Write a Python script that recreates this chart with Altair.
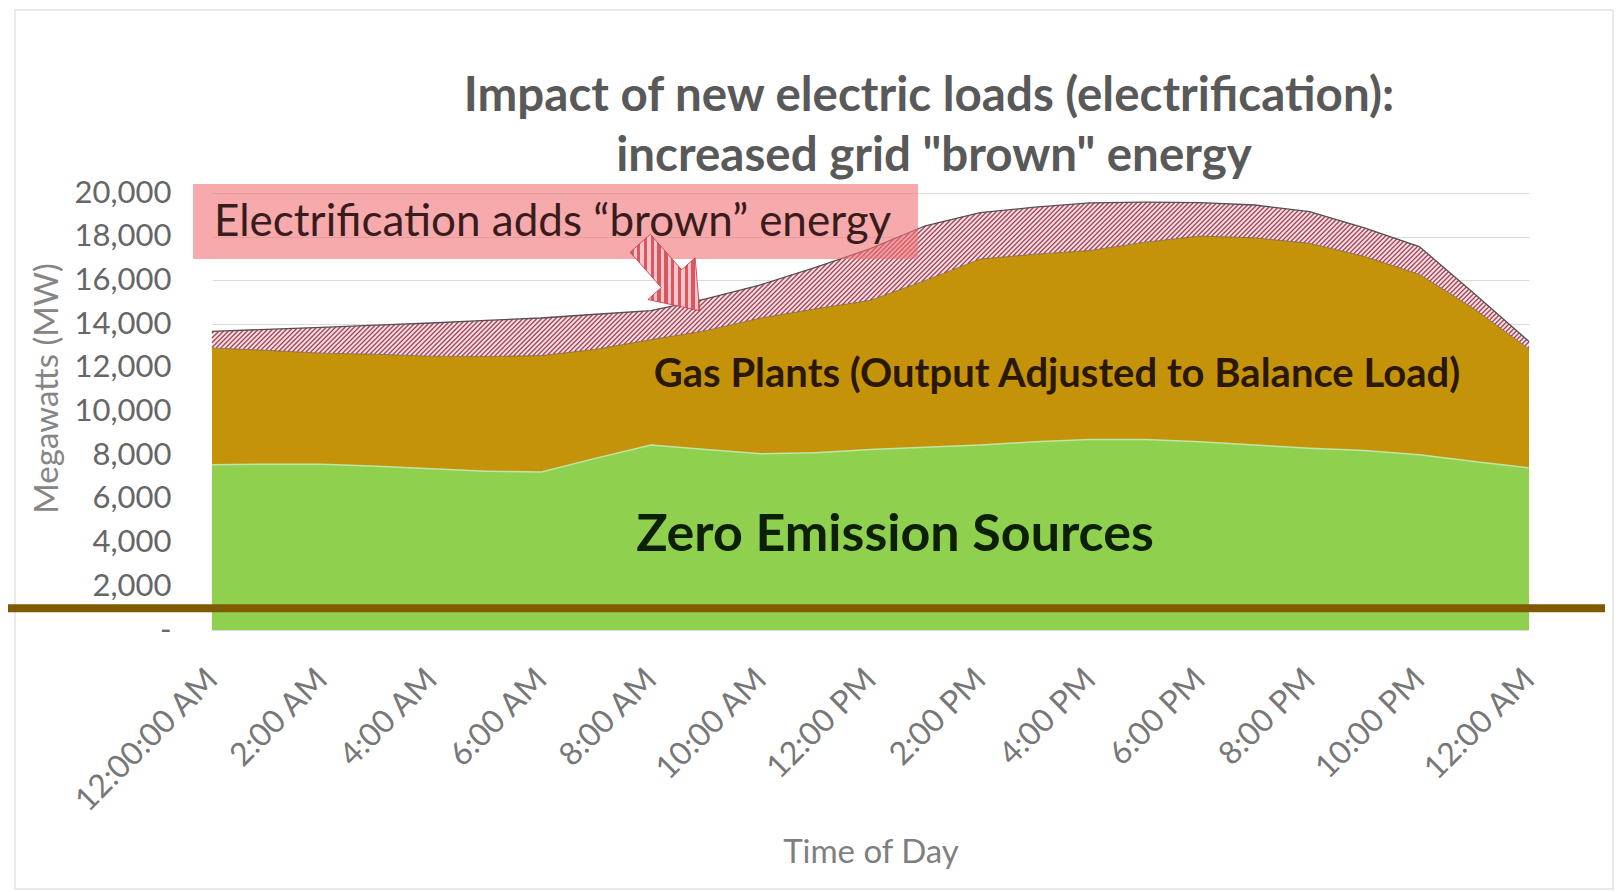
import altair as alt
import numpy as np
import pandas as pd

# ---------------- data (MW) ----------------
hours = list(range(25))
zero_emission = [7600, 7620, 7620, 7530, 7410, 7300, 7260, 7900, 8500, 8300, 8100, 8150, 8300,
                 8400, 8500, 8650, 8750, 8750, 8650, 8500, 8350, 8250, 8050, 7750, 7450]
gas_plants = [5310, 5180, 5050, 5090, 5120, 5220, 5300, 4950, 4790, 5400, 6180, 6550, 6790,
              7600, 8480, 8550, 8620, 9000, 9380, 9450, 9350, 8850, 8230, 6950, 5410]
added_brown = [760, 960, 1180, 1330, 1520, 1650, 1720, 1600, 1330, 1450, 1520, 1900, 2360,
               2500, 2120, 2150, 2180, 1830, 1530, 1500, 1450, 1300, 1270, 700, 340]
tick_hours = list(range(0, 25, 2))
tick_labels = ["12:00:00 AM", "2:00 AM", "4:00 AM", "6:00 AM", "8:00 AM", "10:00 AM", "12:00 PM",
               "2:00 PM", "4:00 PM", "6:00 PM", "8:00 PM", "10:00 PM", "12:00 AM"]
y_ticks = list(range(0, 20001, 2000))
reference_line_mw = [1000]

title_lines = ["Impact of new electric loads (electrification):", 'increased grid "brown" energy']
callout_text = "Electrification adds \u201cbrown\u201d energy"
gas_label = "Gas Plants (Output Adjusted to Balance Load)"
zero_label = "Zero Emission Sources"

df = pd.DataFrame({"hour": hours, "zero": zero_emission, "gas": gas_plants, "brown": added_brown})
df["zero_top"] = df["zero"]
df["gas_top"] = df["zero"] + df["gas"]
df["total"] = df["gas_top"] + df["brown"]

W, H = 1317, 437
YMAX = 20000
FONT = "Lato"

xs = alt.Scale(domain=[0, 24], nice=False, zero=False)
ys = alt.Scale(domain=[0, YMAX], nice=False)

# ---- hatch lines ("////") for the added brown band, in data units ----
step = 0.25
xp = np.arange(0, W + 1e-9, step)
hh = xp / W * 24
ytop = H - np.interp(hh, hours, df["total"]) / YMAX * H
ybot = H - np.interp(hh, hours, df["gas_top"]) / YMAX * H
segs = []
for c in np.arange((xp + ytop).min() + 2, (xp + ybot).max(), 4.7):
    yl = c - xp
    idx = np.where((yl >= ytop) & (yl <= ybot))[0]
    if len(idx) == 0:
        continue
    br = np.where(np.diff(idx) > 1)[0]
    starts = np.concatenate([[idx[0]], idx[br + 1]])
    ends = np.concatenate([idx[br], [idx[-1]]])
    for s, e in zip(starts, ends):
        x1, x2 = xp[s], xp[e]
        segs.append((x1 / W * 24, (H - (c - x1)) / H * YMAX,
                     x2 / W * 24, (H - (c - x2)) / H * YMAX))
hatch_df = pd.DataFrame(segs, columns=["h1", "v1", "h2", "v2"])

label_js = "[" + ",".join("'" + t + "'" for t in tick_labels) + "]"
x_axis = alt.Axis(values=tick_hours, labelExpr=label_js + "[round(datum.value/2)]",
                  labelAngle=-45, labelAlign="right", labelBaseline="middle",
                  labelFont=FONT, labelFontSize=32, labelColor="#777777", labelPadding=44,
                  labelOverlap=False, labelLimit=400, labelBound=False,
                  ticks=False, tickSize=0, domain=False, grid=False,
                  title="Time of Day", titleFont=FONT, titleFontSize=33, titleColor="#7f7f7f",
                  titleFontWeight="normal", titleX=W / 2, titleY=222, titleBaseline="middle",
                  titleAlign="center")
y_axis = alt.Axis(values=y_ticks,
                  labelExpr="datum.value == 0 ? '-\u2002' : format(datum.value, ',')",
                  labelFont=FONT, labelFontSize=31, labelColor="#666666", labelPadding=41,
                  ticks=False, tickSize=0, domain=False, grid=True, gridColor="#dadada",
                  gridWidth=1, title="Megawatts (MW)", titleFont=FONT, titleFontSize=33,
                  titleColor="#858585", titleFontWeight="normal", titleX=-165, titleY=195,
                  titleAngle=-90, titleAlign="center", titleBaseline="middle")


def stripes(n, frac, c1, c2):
    out = []
    for k in range(n):
        a, b, c = round(k / n, 6), round((k + frac) / n, 6), round((k + 1) / n, 6)
        out += [alt.GradientStop(offset=a, color=c1), alt.GradientStop(offset=b, color=c1),
                alt.GradientStop(offset=b, color=c2), alt.GradientStop(offset=c, color=c2)]
    return out


arrow_fill = alt.LinearGradient(gradient="linear", stops=stripes(18, 0.5, "#dd5560", "#f7c6c8"),
                                x1=0, y1=0, x2=1, y2=1.26)

base = alt.Chart(df).encode(x=alt.X("hour:Q", scale=xs, axis=x_axis))
one = pd.DataFrame({"v": reference_line_mw})

frame = alt.Chart(one).mark_rect(fill="transparent", stroke="#e3e3e3", strokeWidth=1.5).encode(
    x=alt.value(-197), x2=alt.value(1401), y=alt.value(-183), y2=alt.value(696))

green = base.mark_area(color="#8fd04f").encode(y=alt.Y("zero_top:Q", scale=ys, axis=y_axis))
green_edge = base.mark_line(color="#bfe6a6", strokeWidth=3).encode(y=alt.Y("zero_top:Q", scale=ys))
gas = base.mark_area(color="#c5930a").encode(y=alt.Y("gas_top:Q", scale=ys), y2="zero_top:Q")
brown = base.mark_area(color="#f9e2e5").encode(y=alt.Y("total:Q", scale=ys), y2="gas_top:Q")
hatch = alt.Chart(hatch_df).mark_rule(color="#a8465a", strokeWidth=1.4).encode(
    x=alt.X("h1:Q", scale=xs), x2="h2:Q", y=alt.Y("v1:Q", scale=ys), y2="v2:Q")
total_line = base.mark_line(color="#505050", strokeWidth=1.3).encode(y=alt.Y("total:Q", scale=ys))
gas_line = base.mark_line(color="#7a6040", strokeWidth=0.8).encode(y=alt.Y("gas_top:Q", scale=ys))

rule = alt.Chart(one).mark_rule(color="#805a00", strokeWidth=8).encode(
    y=alt.Y("v:Q", scale=ys), x=alt.value(-204), x2=alt.value(1393))

box = alt.Chart(one).mark_rect(color="#f07175", opacity=0.6).encode(
    x=alt.value(-19), x2=alt.value(706), y=alt.value(-9), y2=alt.value(66))


def txt(s, x, y, size, weight, color, align="center"):
    return alt.Chart(pd.DataFrame({"t": [s]})).mark_text(
        font=FONT, fontSize=size, fontWeight=weight, color=color, align=align,
        baseline="middle").encode(text="t:N", x=alt.value(x), y=alt.value(y))


t1 = txt(title_lines[0], 717, -96, 47.5, "bold", "#595959")
t2 = txt(title_lines[1], 722, -36, 47.5, "bold", "#595959")
callout = txt(callout_text, 2, 30, 44, "normal", "#3a1c1c", align="left")
gas_t = txt(gas_label, 845, 182, 40, "bold", "#2a1800")
zero_t = txt(zero_label, 683, 342, 52, "bold", "#0d1f05")

arrow_path = "M -0.3 -1 L 0.3 -1 L 0.3 0.05 L 0.7 0.05 L 0 1 L -0.7 0.05 L -0.3 0.05 Z"
arrow = alt.Chart(one).mark_point(shape=arrow_path, size=8100, angle=318.6, filled=True,
                                  fill=arrow_fill, stroke="#c0404c", strokeWidth=0.8,
                                  opacity=1).encode(x=alt.value(458), y=alt.value(84))

chart = alt.layer(frame, green, green_edge, gas, brown, hatch, gas_line, total_line, rule, box,
                  t1, t2, callout, gas_t, zero_t, arrow).properties(
    width=W, height=H, autosize="none",
    padding={"left": 204, "top": 185, "right": 87, "bottom": 262},
    background="white",
).configure(font=FONT).configure_view(stroke="transparent", strokeWidth=0)

chart.save("out.html", embed_options={"renderer": "svg", "actions": False})
